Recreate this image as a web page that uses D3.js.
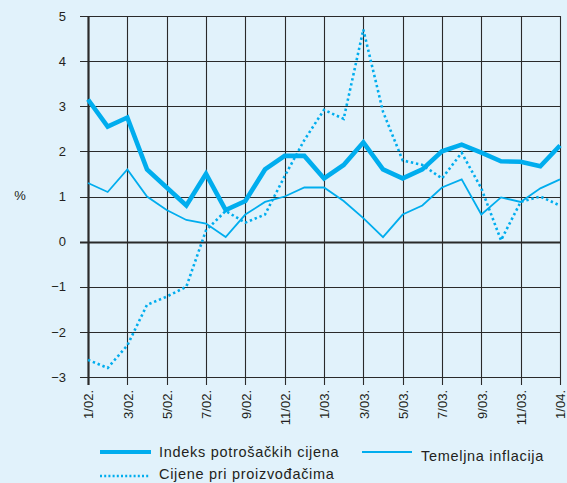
<!DOCTYPE html>
<html>
<head>
<meta charset="utf-8">
<script src="https://cdn.jsdelivr.net/npm/d3@7"></script>
<style>
  html, body { margin: 0; padding: 0; background: #e1f2fb; }
  svg { display: block; }
  text { font-family: "Liberation Sans", Arial, sans-serif; fill: #231f20; }
</style>
</head>
<body>
<svg id="chart" width="567" height="483"></svg>
<script>
// ---- data ----
const months = ["1/02.","2/02.","3/02.","4/02.","5/02.","6/02.","7/02.","8/02.","9/02.","10/02.","11/02.","12/02.",
                "1/03.","2/03.","3/03.","4/03.","5/03.","6/03.","7/03.","8/03.","9/03.","10/03.","11/03.","12/03.","1/04."];
const cpi  = [3.15, 2.55, 2.75, 1.6, 1.2, 0.8, 1.5, 0.7, 0.9, 1.6, 1.9, 1.9,
              1.4, 1.7, 2.2, 1.6, 1.4, 1.6, 2.0, 2.15, 1.97, 1.78, 1.77, 1.67, 2.13];
const core = [1.3, 1.1, 1.6, 1.0, 0.7, 0.48, 0.4, 0.1, 0.6, 0.88, 1.0, 1.2,
              1.2, 0.9, 0.52, 0.1, 0.6, 0.8, 1.2, 1.38, 0.6, 0.98, 0.88, 1.18, 1.38];
const ppi  = [-2.62, -2.8, -2.3, -1.4, -1.22, -1.0, 0.25, 0.68, 0.42, 0.6, 1.45, 2.25,
              2.92, 2.72, 4.7, 2.88, 1.8, 1.7, 1.4, 1.97, 1.18, 0.03, 0.88, 1.0, 0.8];
const yTicks = [-3, -2, -1, 0, 1, 2, 3, 4, 5];
const xTickIdx = [0, 2, 4, 6, 8, 10, 12, 14, 16, 18, 20, 22, 24];
const seriesNames = ["Indeks potrošačkih cijena", "Temeljna inflacija", "Cijene pri proizvođačima"];

// ---- layout ----
const svg = d3.select("#chart");
const L = 88, R = 560, T = 16, B = 377;
const x = d3.scaleLinear().domain([0, months.length - 1]).range([L, R]);
const y = d3.scaleLinear().domain([-3, 5]).range([B, T]);
const blue = "#00adee";
const gridCol = "#2a2a2a";

svg.append("rect").attr("width", 567).attr("height", 483).attr("fill", "#e1f2fb");

// horizontal grid + left ticks
const gy = svg.append("g");
gy.selectAll("line").data(yTicks).join("line")
  .attr("x1", L - 8).attr("x2", R)
  .attr("y1", d => Math.round(y(d)) + 0.5).attr("y2", d => Math.round(y(d)) + 0.5)
  .attr("stroke", gridCol)
  .attr("stroke-width", d => d === 0 ? 2.2 : 1.1);

// vertical grid + bottom ticks
const gx = svg.append("g");
gx.selectAll("line").data(xTickIdx).join("line")
  .attr("x1", d => Math.round(x(d)) + 0.5).attr("x2", d => Math.round(x(d)) + 0.5)
  .attr("y1", T).attr("y2", B + 8)
  .attr("stroke", gridCol)
  .attr("stroke-width", d => d === 0 ? 2.2 : 1.1);

// y labels
svg.append("g").selectAll("text").data(yTicks).join("text")
  .attr("x", 66).attr("y", d => y(d))
  .attr("dy", "0.36em")
  .attr("text-anchor", "end")
  .attr("font-size", 13)
  .text(d => d < 0 ? "\u2212" + Math.abs(d) : d);

svg.append("text").attr("x", 20).attr("y", y(1) - 1).attr("dy", "0.36em")
  .attr("text-anchor", "middle").attr("font-size", 13).text("%");

// x labels
svg.append("g").selectAll("text").data(xTickIdx).join("text")
  .attr("transform", d => `translate(${x(d) + 0.5},390) rotate(-90)`)
  .attr("dy", "0.36em")
  .attr("text-anchor", "end")
  .attr("font-size", 13)
  .text(d => months[d]);

// lines
const line = d3.line().x((d, i) => x(i)).y(d => y(d));
svg.append("path").datum(ppi).attr("d", line)
  .attr("fill", "none").attr("stroke", blue).attr("stroke-width", 2.6)
  .attr("stroke-dasharray", "2.4,2.8");
svg.append("path").datum(core).attr("d", line)
  .attr("fill", "none").attr("stroke", blue).attr("stroke-width", 1.8)
  .attr("stroke-linejoin", "miter");
svg.append("path").datum(cpi).attr("d", line)
  .attr("fill", "none").attr("stroke", blue).attr("stroke-width", 4.6)
  .attr("stroke-linejoin", "miter");

// legend
const lg = svg.append("g");
lg.append("line").attr("x1", 100).attr("x2", 151).attr("y1", 452).attr("y2", 452)
  .attr("stroke", blue).attr("stroke-width", 4.2);
lg.append("text").attr("x", 159).attr("y", 457).attr("font-size", 14.5)
  .attr("letter-spacing", 0.7).text(seriesNames[0]);
lg.append("line").attr("x1", 362).attr("x2", 412).attr("y1", 452).attr("y2", 452)
  .attr("stroke", blue).attr("stroke-width", 1.8);
lg.append("text").attr("x", 421).attr("y", 461).attr("font-size", 14.5)
  .attr("letter-spacing", 0.7).text(seriesNames[1]);
lg.append("line").attr("x1", 100).attr("x2", 150).attr("y1", 476).attr("y2", 476)
  .attr("stroke", blue).attr("stroke-width", 2.4).attr("stroke-dasharray", "2,2.2");
lg.append("text").attr("x", 159).attr("y", 479).attr("font-size", 14.5)
  .attr("letter-spacing", 0.7).text(seriesNames[2]);
</script>
</body>
</html>
